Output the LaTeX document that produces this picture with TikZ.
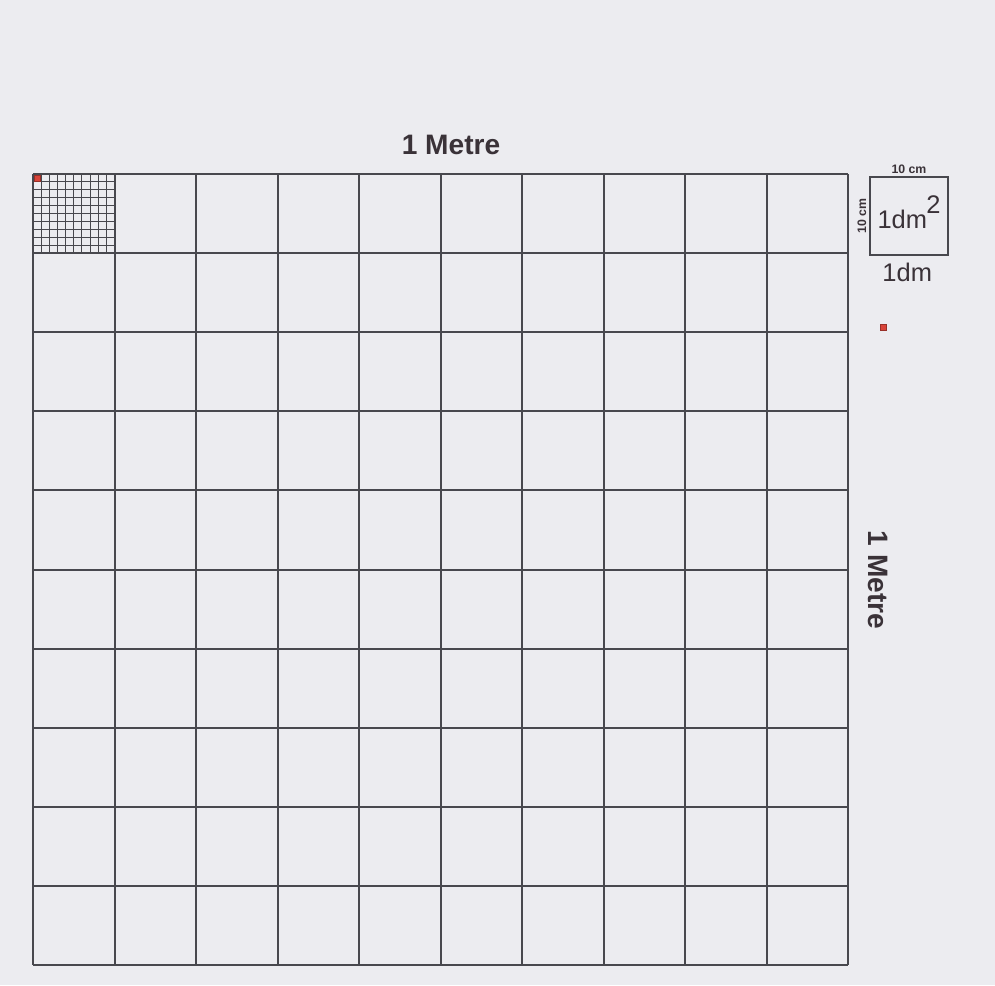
\documentclass[tikz,border=0pt]{standalone}
\usepackage{fontspec}
\setmainfont{Liberation Sans}
\usetikzlibrary{positioning}
\definecolor{bgr}{HTML}{ECECF0}
\definecolor{lin}{HTML}{48484E}
\definecolor{txt}{HTML}{3A3238}
\definecolor{redsq}{HTML}{D9443A}
\tikzset{
  gline/.style={draw=lin, line width=0.04cm},
  fline/.style={draw=lin, line width=0.6pt},
  dmbox/.style={draw=lin, line width=0.85pt, minimum width=1.56cm, minimum height=1.56cm, inner sep=0pt},
  ttl/.style={text=txt, inner sep=0pt, font=\bfseries\fontsize{16}{18}\selectfont},
  unt/.style={text=txt, inner sep=0pt, font=\fontsize{14.5}{16}\selectfont},
  sml/.style={text=txt, inner sep=0pt, font=\bfseries\fontsize{7}{8}\selectfont},
  rsq/.style={fill=redsq, draw=redsq!70!black, line width=0.3pt}}

\begin{document}
\begin{tikzpicture}[x=0.02cm, y=-0.02cm]
\useasboundingbox[fill=bgr] (0,0) rectangle (995,985);
% the metre, 10 x 10 decimetres
\foreach \i in {0,...,10} {
  \draw[gline] ({round(33+81.5*\i)},174) -- ({round(33+81.5*\i)},965);
  \draw[gline] (33,{round(174+79.1*\i)}) -- (848,{round(174+79.1*\i)});}
% first decimetre split in centimetres
\foreach \i in {1,...,9} {
  \draw[fline] ({33+8.15*\i},174) -- ({33+8.15*\i},253);
  \draw[fline] (33,{174+7.9*\i}) -- (114,{174+7.9*\i});}
\draw[rsq] (34.5,175.5) rectangle (40.5,181.5);
\node[ttl] (top) at (451,145) {1 Metre};
\node[ttl, rotate=-90] (side) at (878,580) {1 Metre};
% the square decimetre beside it
\node[dmbox] (dm) at (909,216) {};
\node[sml, above=1.5pt of dm.north] (wd) {10 cm};
\node[sml, rotate=90, anchor=south] (ht) at ([xshift=-1.5pt]dm.west) {10 cm};
\node[unt] (dmq) at (909,212) {1dm\kern-0.5pt\raisebox{1.15ex}{2}};
\node[unt, below=4pt of dm.south, xshift=-1pt] (dml) {1dm};
\draw[rsq] (880,324) rectangle (886,330);
\end{tikzpicture}
\end{document}
